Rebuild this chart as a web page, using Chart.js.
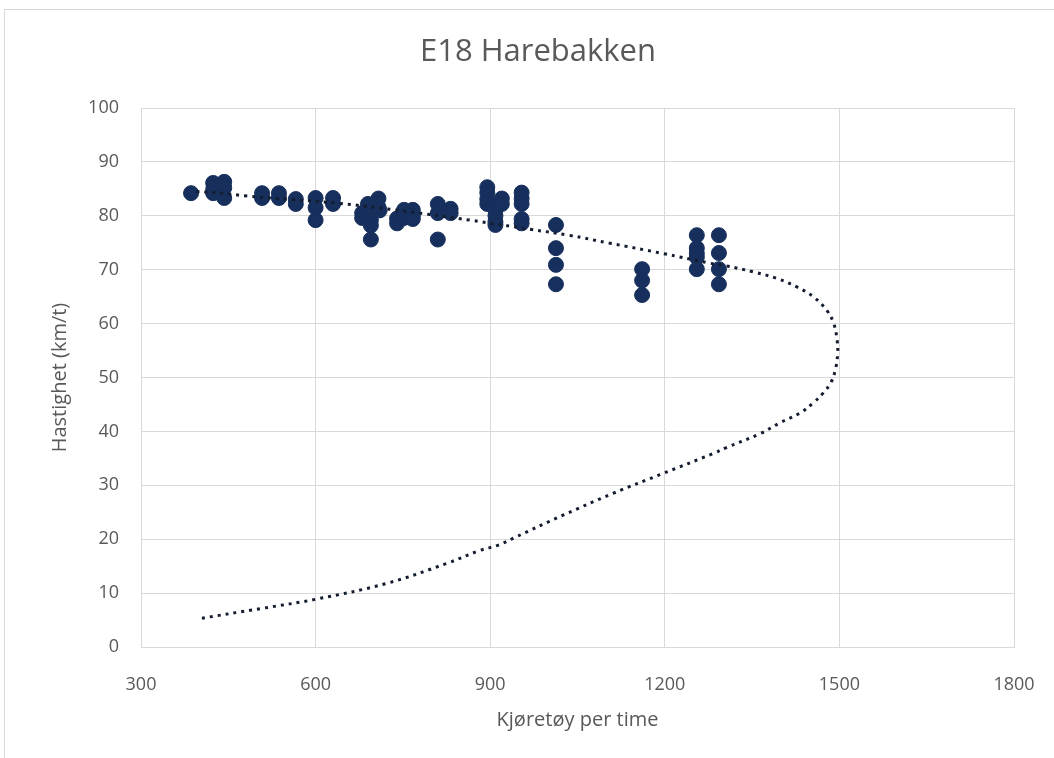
<!DOCTYPE html>
<html>
<head>
<meta charset="utf-8">
<script src="https://cdn.jsdelivr.net/npm/chart.js@4.4.0/dist/chart.umd.min.js"></script>
<style>
  html, body { margin: 0; padding: 0; background: #fff; }
  #wrap { position: relative; width: 1054px; height: 758px; overflow: hidden; }
  #frame { position: absolute; left: 4px; top: 9px; width: 1200px; height: 900px; border: 1px solid #d9d9d9; }
  #c { position: absolute; left: 0; top: 0; }
</style>
</head>
<body>
<div id="wrap">
  <div id="frame"></div>
  <canvas id="c" width="1054" height="758"></canvas>
</div>
<script>
// målte punkter: kjøretøy per time og hastighet (km/t)
const flowPoints = [
  386,
  424, 424, 424,
  443, 443, 443,
  508, 508,
  537, 537,
  566, 566,
  600, 600, 600,
  630, 630,
  680, 680, 690, 690, 695, 695, 695, 708, 708, 710,
  740, 740, 752, 752, 767, 767, 767,
  810, 810, 810, 832, 832,
  895, 895, 895, 895,
  909, 909, 909, 909,
  920, 920,
  954, 954, 954, 954, 954,
  1013, 1013, 1013, 1013,
  1161, 1161, 1161,
  1255, 1255, 1255, 1255, 1255,
  1293, 1293, 1293, 1293
];
const speedPoints = [
  84.2,
  86.1, 84.9, 84.2,
  86.3, 85.2, 83.3,
  84.2, 83.3,
  84.2, 83.3,
  83.1, 82.2,
  83.3, 81.5, 79.2,
  83.3, 82.2,
  80.5, 79.6, 82.2, 81.0, 79.2, 78.2, 75.6, 83.2, 81.6, 81.0,
  78.6, 79.5, 81.1, 79.6, 81.1, 80.0, 79.4,
  82.2, 80.5, 75.6, 81.3, 80.5,
  85.3, 84.3, 83.1, 82.2,
  81.1, 80.0, 78.9, 78.3,
  83.2, 82.2,
  84.3, 83.2, 82.2, 79.4, 78.6,
  78.3, 74.0, 70.9, 67.3,
  70.1, 68.0, 65.3,
  76.4, 74.0, 73.0, 72.3, 70.1,
  76.4, 73.1, 70.1, 67.3
];

// tilpasset kurve (lest av bildet, i rekkefølge langs kurven)
const curveFlow = [395, 440, 478, 560, 642, 750, 865, 968, 1035, 1106, 1197, 1278, 1306, 1352, 1392, 1427, 1455, 1478, 1490, 1496, 1497, 1493, 1485, 1472, 1455, 1432, 1398, 1364, 1306, 1283, 1197, 1111, 1026, 940, 914, 882, 825, 722, 602, 510, 396];
const curveSpeed = [84.5, 84.2, 83.7, 83.0, 82.3, 80.9, 79.2, 77.5, 76.4, 74.9, 73.0, 71.2, 70.7, 69.6, 68.4, 66.8, 65.0, 62.5, 60.1, 57.0, 54.5, 51.4, 49.0, 47.1, 45.3, 43.4, 41.6, 39.6, 37.0, 35.9, 32.2, 28.5, 24.5, 20.2, 18.9, 17.9, 15.5, 11.8, 8.9, 7.2, 5.2];

const xTicks = [300, 600, 900, 1200, 1500, 1800];
const yTicks = [0, 10, 20, 30, 40, 50, 60, 70, 80, 90, 100];

const chartTitle = 'E18 Harebakken';
const xTitle = 'Kjøretøy per time';
const yTitle = 'Hastighet (km/t)';

const fontFam = '"Open Sans", "Noto Sans", sans-serif';
const textCol = '#595959';
const gridCol = '#d9d9d9';

// tittel tegnes selv for å holde plottet på plass
const titlePlugin = {
  id: 'ownTitle',
  afterDraw(chart) {
    const ctx = chart.ctx;
    ctx.save();
    ctx.fillStyle = textCol;
    ctx.font = '31px ' + fontFam;
    ctx.textAlign = 'center';
    ctx.textBaseline = 'middle';
    ctx.fillText(chartTitle, 538, 52);
    ctx.restore();
  }
};

new Chart(document.getElementById('c'), {
  type: 'scatter',
  data: {
    datasets: [
      {
        label: 'kurve',
        data: curveFlow.map((f, i) => ({ x: f, y: curveSpeed[i] })),
        showLine: true,
        borderColor: '#141c30',
        borderWidth: 3,
        borderDash: [3, 5],
        tension: 0.4,
        pointRadius: 0,
        order: 0
      },
      {
        label: 'målinger',
        data: flowPoints.map((f, i) => ({ x: f, y: speedPoints[i] })),
        backgroundColor: '#172f5c',
        borderColor: '#172f5c',
        borderWidth: 1,
        pointRadius: 7.5,
        order: 1
      }
    ]
  },
  options: {
    responsive: false,
    animation: false,
    layout: { padding: { left: 0, right: 40, top: 108, bottom: 0 } },
    plugins: {
      legend: { display: false },
      tooltip: { enabled: false }
    },
    scales: {
      x: {
        type: 'linear',
        min: 300,
        max: 1800,
        afterBuildTicks: s => { s.ticks = xTicks.map(v => ({ value: v })); },
        afterFit: s => { s.height = 111; s.paddingLeft = 0; s.paddingRight = 0; },
        grid: { color: gridCol, lineWidth: 1, drawTicks: false },
        border: { color: gridCol },
        ticks: { color: textCol, font: { family: fontFam, size: 18 }, padding: 27, callback: v => String(v) },
        title: {
          display: true,
          text: xTitle,
          color: textCol,
          font: { family: fontFam, size: 20 },
          padding: { top: 0, bottom: 26 }
        }
      },
      y: {
        min: 0,
        max: 100,
        afterBuildTicks: s => { s.ticks = yTicks.map(v => ({ value: v })); },
        afterFit: s => { s.width = 141; s.paddingTop = 0; s.paddingBottom = 0; },
        grid: { color: gridCol, lineWidth: 1, drawTicks: false },
        border: { color: gridCol },
        ticks: { color: textCol, font: { family: fontFam, size: 18 }, padding: 22, callback: v => String(v) },
        title: {
          display: true,
          text: yTitle,
          color: textCol,
          font: { family: fontFam, size: 20 },
          padding: { top: 48, bottom: 0 }
        }
      }
    }
  },
  plugins: [titlePlugin]
});
</script>
</body>
</html>
